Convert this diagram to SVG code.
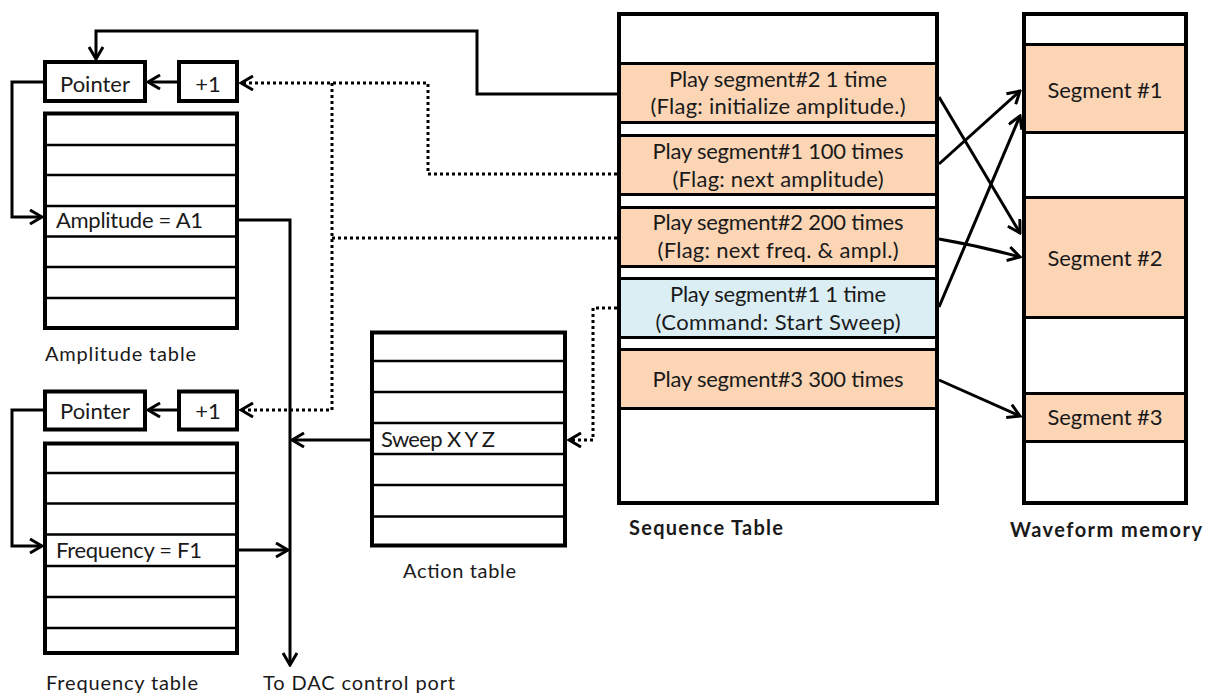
<svg xmlns="http://www.w3.org/2000/svg" width="1212" height="698" viewBox="0 0 1212 698">
<style>
.box{fill:#fff;stroke:#000;stroke-width:4}
.frame{fill:none;stroke:#000;stroke-width:4}
.row{stroke:#000;stroke-width:2.5;fill:none}
.org{fill:#FCD5B5;stroke:#000;stroke-width:3}
.blu{fill:#DBEEF4;stroke:#000;stroke-width:3}
.t{font-family:Lato,"Open Sans","Liberation Sans",sans-serif;font-size:22px;fill:#1a1a1a}
.l{font-family:Lato,"Open Sans","Liberation Sans",sans-serif;font-size:20px;fill:#1a1a1a}
.b{font-family:Lato,"Open Sans","Liberation Sans",sans-serif;font-size:20px;font-weight:bold;fill:#1a1a1a}
.m{text-anchor:middle}
.c{fill:none;stroke:#000;stroke-width:3}
.d{fill:none;stroke:#000;stroke-width:3;stroke-dasharray:3 3}
</style>
<defs>
<marker id="a" markerUnits="userSpaceOnUse" viewBox="0 0 16 16" markerWidth="16" markerHeight="16" refX="14" refY="8" orient="auto">
<path d="M2,1 L14,8 L2,15" fill="none" stroke="#000" stroke-width="3" stroke-dasharray="none"/>
</marker>
</defs>

<g id="amp-pointer"><rect class="box" x="45" y="62" width="100" height="39"/><text class="t m" x="95" y="92">Pointer</text></g>
<g id="amp-inc"><rect class="box" x="179" y="62" width="58" height="39"/><text class="t m" x="208" y="92">+1</text></g>
<g id="amp-table">
<rect class="box" x="45" y="113.5" width="192" height="214.5"/>
<path class="row" d="M45,145H237M45,175H237M45,206H237M45,236.5H237M45,267H237M45,298H237"/>
<text class="t" x="56" y="228" textLength="147" lengthAdjust="spacing">Amplitude = A1</text>
<text class="l" x="45" y="361" textLength="151" lengthAdjust="spacing">Amplitude table</text>
</g>

<g id="freq-pointer"><rect class="box" x="45" y="391.5" width="100" height="38"/><text class="t m" x="95" y="419">Pointer</text></g>
<g id="freq-inc"><rect class="box" x="179" y="391.5" width="58" height="38"/><text class="t m" x="208" y="419">+1</text></g>
<g id="freq-table">
<rect class="box" x="45" y="443.5" width="192" height="209.5"/>
<path class="row" d="M45,473H237M45,503.5H237M45,534.5H237M45,566H237M45,597H237M45,628H237"/>
<text class="t" x="56" y="558" textLength="146" lengthAdjust="spacing">Frequency = F1</text>
<text class="l" x="46" y="690" textLength="152" lengthAdjust="spacing">Frequency table</text>
</g>

<g id="dac-label"><text class="l" x="263" y="690" textLength="192" lengthAdjust="spacing">To DAC control port</text></g>

<g id="action-table">
<rect class="box" x="372" y="332.5" width="193" height="213"/>
<path class="row" d="M372,361H565M372,392H565M372,423H565M372,454H565M372,485H565M372,516.5H565"/>
<text class="t" x="381" y="447" textLength="114" lengthAdjust="spacing">Sweep X Y Z</text>
<text class="l" x="403" y="578" textLength="113" lengthAdjust="spacing">Action table</text>
</g>

<g id="sequence-table">
<rect class="box" x="619" y="14" width="318" height="489"/>
<rect class="org" x="619" y="63.5" width="318" height="59"/>
<rect class="org" x="619" y="135.5" width="318" height="59"/>
<rect class="org" x="619" y="207.5" width="318" height="59"/>
<rect class="blu" x="619" y="278.5" width="318" height="59"/>
<rect class="org" x="619" y="349.5" width="318" height="59"/>
<rect class="frame" x="619" y="14" width="318" height="489"/>
<text class="t m" x="778" y="87" textLength="218" lengthAdjust="spacing">Play segment#2 1 time</text>
<text class="t m" x="778" y="114" textLength="255" lengthAdjust="spacing">(Flag: initialize amplitude.)</text>
<text class="t m" x="778" y="159" textLength="251" lengthAdjust="spacing">Play segment#1 100 times</text>
<text class="t m" x="778" y="187" textLength="211" lengthAdjust="spacing">(Flag: next amplitude)</text>
<text class="t m" x="778" y="230" textLength="251" lengthAdjust="spacing">Play segment#2 200 times</text>
<text class="t m" x="778" y="258" textLength="241" lengthAdjust="spacing">(Flag: next freq. &amp; ampl.)</text>
<text class="t m" x="778" y="302" textLength="216" lengthAdjust="spacing">Play segment#1 1 time</text>
<text class="t m" x="778" y="330" textLength="245" lengthAdjust="spacing">(Command: Start Sweep)</text>
<text class="t m" x="778" y="387" textLength="251" lengthAdjust="spacing">Play segment#3 300 times</text>
<text class="b" x="629" y="535" textLength="154" lengthAdjust="spacing">Sequence Table</text>
</g>

<g id="waveform-memory">
<rect class="box" x="1024" y="14" width="162" height="489"/>
<rect class="org" x="1024" y="44.5" width="162" height="88"/>
<rect class="org" x="1024" y="197.5" width="162" height="120"/>
<rect class="org" x="1024" y="393.5" width="162" height="48"/>
<rect class="frame" x="1024" y="14" width="162" height="489"/>
<text class="t m" x="1105" y="98" textLength="115" lengthAdjust="spacing">Segment #1</text>
<text class="t m" x="1105" y="266" textLength="115" lengthAdjust="spacing">Segment #2</text>
<text class="t m" x="1105" y="425" textLength="115" lengthAdjust="spacing">Segment #3</text>
<text class="b m" x="1106" y="537" textLength="192" lengthAdjust="spacing">Waveform memory</text>
</g>

<g id="connectors">
<path class="c" d="M617,94H477V31H96V59" marker-end="url(#a)"/>
<path class="d" d="M617,174H428V83H241" marker-end="url(#a)"/>
<path class="d" d="M617,238H332"/>
<path class="d" d="M332,83V410H241" marker-end="url(#a)"/>
<path class="d" d="M617,308H593V440H569" marker-end="url(#a)"/>
<path class="c" d="M177,82H148" marker-end="url(#a)"/>
<path class="c" d="M177,410H148" marker-end="url(#a)"/>
<path class="c" d="M43,82H12V217H42" marker-end="url(#a)"/>
<path class="c" d="M43,410H12V546H42" marker-end="url(#a)"/>
<path class="c" d="M239,220H290V665" marker-end="url(#a)"/>
<path class="c" d="M239,550H288" marker-end="url(#a)"/>
<path class="c" d="M370,440H292" marker-end="url(#a)"/>
<path class="c" d="M939,97L1020,233" marker-end="url(#a)"/>
<path class="c" d="M939,164L1020,91" marker-end="url(#a)"/>
<path class="c" d="M939,239Q980,246 1020,257" marker-end="url(#a)"/>
<path class="c" d="M939,307L1020,116" marker-end="url(#a)"/>
<path class="c" d="M939,380L1020,416" marker-end="url(#a)"/>
</g>
</svg>
